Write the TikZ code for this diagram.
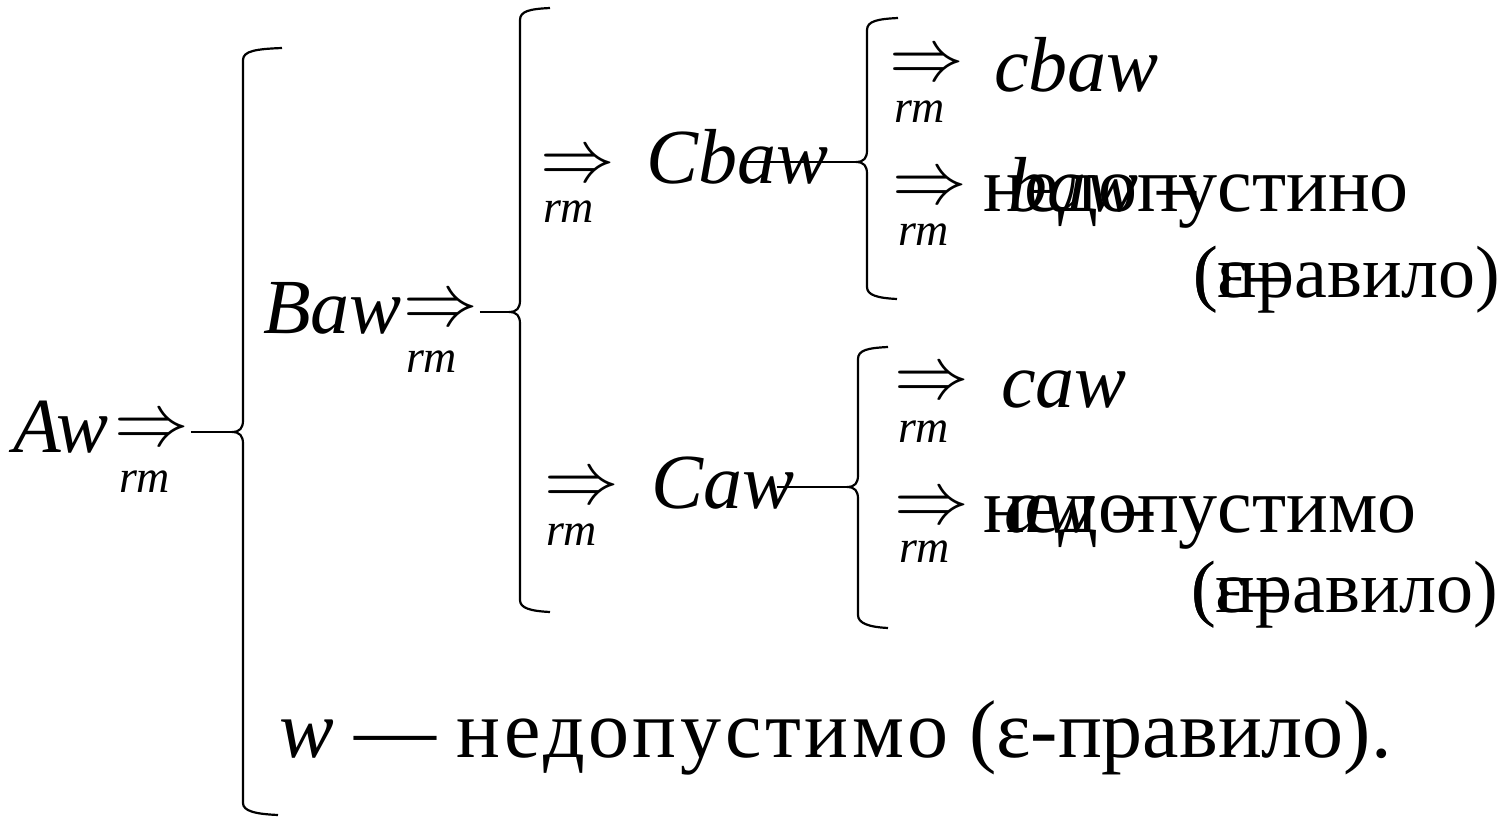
\documentclass[tikz,border=0pt]{standalone}
\usepackage{fontspec}
\setmainfont{Liberation Serif}
\begin{document}
\begin{tikzpicture}[x=0.5pt, y=-0.5pt, line width=1pt,
		every node/.style={inner sep=0pt, anchor=base west},
		term/.style={font=\fontsize{39}{45}\selectfont\itshape},
		txt/.style={font=\fontsize{39}{45}\selectfont},
		note/.style={font=\fontsize{37}{42}\selectfont},
		arr/.style={anchor=center, scale=1.5, font=\fontsize{24.88}{28}\selectfont},
		sub/.style={font=\fontsize{23}{26}\selectfont\itshape},
		brace/.style={line width=1.1pt}]
	\useasboundingbox (0,0) rectangle (1503,818);
	% 1. Aw
	\node[term] (Aw) at (12,452) {Aw};
	\node[arr] (a1) at (152,432) {$\Rightarrow$};
	\node[sub] (rm1) at (118,492) {rm};
	\coordinate (tip1) at (232,432);
	\draw[brace] (282,48) .. controls (256,49) and (243,51) .. (243,60) -- (243,420)
		.. controls (243,428) and (240,432) .. (tip1)
		.. controls (240,432) and (243,436) .. (243,444) -- (243,803)
		.. controls (243,811) and (255,814) .. (278,815);
	\draw (a1.east) -- (tip1);
	
	% 2. Baw
	\node[term] (Baw) at (262,333) {Baw};
	\node[arr] (a2) at (441,312) {$\Rightarrow$};
	\node[sub] (rm2) at (405,372) {rm};
	\coordinate (tip2) at (509,312);
	\draw[brace] (550,8) .. controls (530,9) and (520,11) .. (520,20) -- (520,300)
		.. controls (520,308) and (517,312) .. (tip2)
		.. controls (517,312) and (520,316) .. (520,324) -- (520,600)
		.. controls (520,608) and (530,611) .. (550,612);
	\draw (a2.east) -- (tip2);
	
	% 3. Cbaw
	\node[arr] (a3) at (578,168) {$\Rightarrow$};
	\node[sub] (rm3) at (542,222) {rm};
	\node[term] (Cbaw) at (645,184) {Cbaw};
	\coordinate (l3) at (747,162);
	\coordinate (tip3) at (856,162);
	\draw[brace] (898,18) .. controls (878,19) and (867,21) .. (867,30) -- (867,150)
		.. controls (867,158) and (864,162) .. (tip3)
		.. controls (864,162) and (867,166) .. (867,174) -- (867,287)
		.. controls (867,295) and (877,298) .. (897,299);
	\draw (l3) -- (tip3);
	
	\node[arr] (a4) at (927,67) {$\Rightarrow$};
	\node[sub] (rm4) at (893,123) {rm};
	\node[term] (cbaw) at (993,92) {cbaw};
	
	\node[arr] (a5) at (930,190) {$\Rightarrow$};
	\node[sub] (rm5) at (897,245) {rm};
	\node[txt] (bad1) at (982,212) {недопустино};
	\node[term] (baw) at (1007,212) {baw –};
	\node[note] (rule1) at (1192,297) {(правило)};
	\node[note] (eps1) at (1192,297) {(ε–};
	
	% 4. Caw
	\node[arr] (a6) at (582,490) {$\Rightarrow$};
	\node[sub] (rm6) at (545,545) {rm};
	\node[term] (Caw) at (650,508) {Caw};
	\coordinate (l6) at (777,487);
	\coordinate (tip4) at (847,487);
	\draw[brace] (888,347) .. controls (868,348) and (858,350) .. (858,359) -- (858,475)
		.. controls (858,483) and (855,487) .. (tip4)
		.. controls (855,487) and (858,491) .. (858,499) -- (858,615)
		.. controls (858,623) and (868,627) .. (888,628);
	\draw (l6) -- (tip4);
	
	\node[arr] (a7) at (932,385) {$\Rightarrow$};
	\node[sub] (rm7) at (897,442) {rm};
	\node[term] (caw) at (1000,407) {caw};
	
	\node[arr] (a8) at (932,510) {$\Rightarrow$};
	\node[sub] (rm8) at (898,562) {rm};
	\node[txt] (bad2) at (982,532) {недопустимо};
	\node[term] (aw) at (1003,532) {aw –};
	\node[note] (rule2) at (1190,612) {(правило)};
	\node[note] (eps2) at (1190,612) {(ε–};
	
	% 5. w
	\node[txt, font=\fontsize{41}{46}\selectfont] (w) at (278,757)
		{\textit{w} — {\addfontfeature{LetterSpace=4.4}недопустимо} (ε-правило).};
\end{tikzpicture}
\end{document}
